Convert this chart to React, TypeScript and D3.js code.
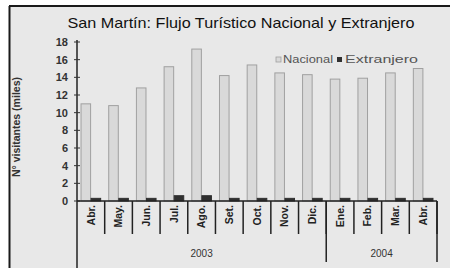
import * as React from 'react';
import * as d3 from 'd3';

const months = ["Abr.", "May.", "Jun.", "Jul.", "Ago.", "Set.", "Oct.", "Nov.", "Dic.", "Ene.", "Feb.", "Mar.", "Abr."];
const yearLabels = ["2003", "2004"];
const yearSpans = [9, 4];
const seriesNames = ["Nacional", "Extranjero"];
const nacional = [11.0, 10.8, 12.8, 15.2, 17.2, 14.2, 15.4, 14.5, 14.3, 13.8, 13.9, 14.5, 15.0];
const extranjero = [0.3, 0.3, 0.3, 0.6, 0.6, 0.3, 0.3, 0.3, 0.3, 0.3, 0.3, 0.3, 0.3];
const yTicks = [0, 2, 4, 6, 8, 10, 12, 14, 16, 18];

const W = 450, H = 268;
const M = { left: 77, right: 13, top: 42, axisY: 201 };

export default function App() {
  const keys = months.map((m, i) => m + i);
  const x = d3.scaleBand<string>().domain(keys).range([M.left, W - M.right]).padding(0);
  const x1 = d3.scaleBand<string>().domain(seriesNames).range([0, x.bandwidth()]).paddingInner(0.05).paddingOuter(0.4);
  const y = d3.scaleLinear().domain([0, 18]).range([M.axisY, M.top]);
  const series = [nacional, extranjero];
  const fills = ["#d9d9d9", "#303030"];
  const strokes = ["#a0a0a0", "#303030"];

  // year group boundaries
  let acc = 0;
  const groups = yearLabels.map((lab, i) => {
    const start = acc;
    acc += yearSpans[i];
    const x0 = x(keys[start])!;
    const x1e = x(keys[acc - 1])! + x.bandwidth();
    return { lab, x0, x1: x1e };
  });

  const font = "'Liberation Sans', Arial, sans-serif";

  return (
    <div style={{ position: 'fixed', left: 0, top: 0 }}>
      <svg width={W} height={H} style={{ display: 'block', fontFamily: font }}>
        <rect x={0} y={0} width={W} height={H} fill="#ffffff" />
        <rect x={9} y={6} width={W - 9} height={H - 6} fill="#e8e8e8" />
        <line x1={9} x2={W} y1={6} y2={6} stroke="#1a1a1a" strokeWidth={2} />
        <line x1={9.5} x2={9.5} y1={6} y2={H} stroke="#1a1a1a" strokeWidth={2} />

        <text x={241} y={28} textAnchor="middle" fontSize={15} fill="#111" textLength={347} lengthAdjust="spacingAndGlyphs">
          San Martín: Flujo Turístico Nacional y Extranjero
        </text>

        {/* y axis label */}
        <text transform={`translate(20,127) rotate(-90)`} textAnchor="middle" fontSize={10} fill="#333" fontWeight="bold" textLength={100} lengthAdjust="spacingAndGlyphs">
          N° visitantes (miles)
        </text>

        {/* bars */}
        {series.map((vals, s) =>
          vals.map((v, i) => (
            <rect key={s + '-' + i}
              x={x(keys[i])! + x1(seriesNames[s])!}
              y={y(v)}
              width={x1.bandwidth()}
              height={y(0) - y(v)}
              fill={fills[s]}
              stroke={strokes[s]}
              strokeWidth={1} />
          ))
        )}

        {/* y axis */}
        <line x1={M.left} x2={M.left} y1={40} y2={H} stroke="#222" strokeWidth={1.5} />
        {yTicks.map(t => (
          <g key={t}>
            <line x1={M.left - 3} x2={M.left + 3} y1={y(t)} y2={y(t)} stroke="#333" />
            <text x={68} y={y(t)} dy="0.35em" textAnchor="end" fontSize={11} fill="#333" fontWeight="bold">{t}</text>
          </g>
        ))}

        {/* x axis */}
        <line x1={M.left} x2={W - M.right} y1={M.axisY} y2={M.axisY} stroke="#222" strokeWidth={1.5} />
        {keys.map((k, i) => (
          <g key={k}>
            <line x1={x(k)! + x.bandwidth()} x2={x(k)! + x.bandwidth()} y1={M.axisY} y2={234} stroke="#222" strokeWidth={1.5} />
            <text transform={`translate(${x(k)! + x.bandwidth() / 2},205) rotate(-90)`} dy="0.35em" textAnchor="end" fontSize={10.5} fill="#222" fontWeight="bold">{months[i]}</text>
          </g>
        ))}
        {groups.map(g => (
          <g key={g.lab}>
            <line x1={g.x1} x2={g.x1} y1={M.axisY} y2={262} stroke="#222" strokeWidth={1.5} />
            <text x={(g.x0 + g.x1) / 2} y={257} textAnchor="middle" fontSize={10} fill="#333">{g.lab}</text>
          </g>
        ))}

        {/* legend */}
        <rect x={276} y={57} width={5} height={5} fill={fills[0]} stroke={strokes[0]} strokeWidth={0.8} />
        <text x={283} y={63} fontSize={11} fill="#555" textLength={50} lengthAdjust="spacingAndGlyphs">Nacional</text>
        <rect x={337} y={57} width={5} height={5} fill={fills[1]} />
        <text x={345} y={63} fontSize={11} fill="#555" textLength={73} lengthAdjust="spacingAndGlyphs">Extranjero</text>
      </svg>
    </div>
  );
}
